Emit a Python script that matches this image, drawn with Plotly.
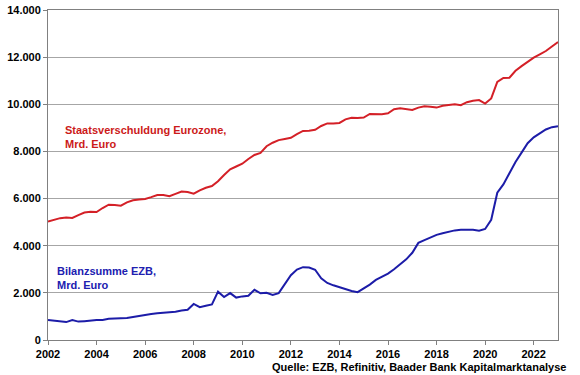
import plotly.graph_objects as go

# Quarterly time axis (decimal years)
years = [2002 + i * 0.25 for i in range(85)]

staatsverschuldung = [
    5030, 5100, 5170, 5200, 5180, 5300, 5410, 5440, 5430, 5600, 5740, 5730,
    5700, 5840, 5930, 5960, 5985, 6060, 6150, 6150, 6100, 6200, 6300, 6280,
    6210, 6350, 6460, 6530, 6735, 7000, 7240, 7360, 7480, 7680, 7850, 7940,
    8220, 8370, 8480, 8530, 8580, 8730, 8870, 8880, 8920, 9080, 9190, 9190,
    9210, 9360, 9430, 9420, 9440, 9590, 9590, 9580, 9620, 9790, 9830, 9780,
    9760, 9860, 9920, 9900, 9860, 9940, 9970, 10000, 9960, 10090, 10150, 10180,
    10030, 10250, 10950, 11120, 11130, 11420, 11620, 11820, 11980, 12120, 12260, 12450,
    12640,
]

bilanzsumme_ezb = [
    850, 810, 770, 760, 850, 780, 800, 830, 850, 850, 900, 910,
    915, 930, 980, 1030, 1065, 1100, 1130, 1150, 1170, 1200, 1250, 1280,
    1530, 1390, 1450, 1510, 2050, 1820, 1990, 1800, 1850, 1880, 2130, 1980,
    2000, 1915, 1990, 2350, 2750, 2990, 3090, 3075, 2980, 2620, 2420, 2320,
    2240, 2130, 2080, 2030, 2180, 2350, 2550, 2670, 2820, 3000, 3200, 3420,
    3700, 4120, 4240, 4350, 4460, 4530, 4600, 4650, 4675, 4680, 4680, 4640,
    4710, 5100, 6250, 6600, 7100, 7550, 7950, 8350, 8600, 8780, 8930, 9030,
    9070,
]

x_ticks = list(range(2002, 2023, 2))
y_ticks = list(range(0, 14001, 2000))

label_staat = "Staatsverschuldung Eurozone,<br>Mrd. Euro"
label_ezb = "Bilanzsumme EZB,<br>Mrd. Euro"
source = "Quelle: EZB, Refinitiv, Baader Bank Kapitalmarktanalyse"

RED = "#d42027"
BLUE = "#1c1ca8"
FONT = "Liberation Sans, Arial, sans-serif"

fig = go.Figure()
fig.add_trace(go.Scatter(x=years, y=staatsverschuldung, mode="lines",
                         line=dict(color=RED, width=2), showlegend=False))
fig.add_trace(go.Scatter(x=years, y=bilanzsumme_ezb, mode="lines",
                         line=dict(color=BLUE, width=2), showlegend=False))

fig.add_annotation(x=0.029, y=8620, xref="paper", yref="y", text=label_staat,
                   showarrow=False, xanchor="left", yanchor="middle", align="left",
                   font=dict(family=FONT, size=11, color="#cc1a1a", weight="bold"))
fig.add_annotation(x=0.0137, y=2625, xref="paper", yref="y", text=label_ezb,
                   showarrow=False, xanchor="left", yanchor="middle", align="left",
                   font=dict(family=FONT, size=11, color="#2020b0", weight="bold"))
fig.add_annotation(x=1.0196, y=-0.0818, xref="paper", yref="paper", text=source,
                   showarrow=False, xanchor="right", yanchor="middle",
                   font=dict(family=FONT, size=11, color="black", weight="bold"))

fig.update_layout(
    width=580, height=375,
    margin=dict(l=48, r=22, t=10, b=35, autoexpand=False),
    paper_bgcolor="white", plot_bgcolor="white",
    separators=",.",
    font=dict(family=FONT, size=11, color="black"),
)
fig.update_xaxes(range=[2002, 2023], tickvals=x_ticks, showgrid=False,
                 showline=True, linecolor="#808080", linewidth=1, mirror=True,
                 ticks="outside", ticklen=4, tickcolor="#808080", automargin=False,
                 ticklabeloverflow="allow",
                 tickfont=dict(family=FONT, size=11, color="black", weight="bold"),
                 zeroline=False)
fig.update_yaxes(range=[0, 14000], tickvals=y_ticks, tickformat=",d",
                 showgrid=True, gridcolor="#a6a6a6", gridwidth=1,
                 showline=True, linecolor="#808080", linewidth=1, mirror=True,
                 ticks="outside", ticklen=4, tickcolor="#808080", automargin=False,
                 ticklabeloverflow="allow",
                 tickfont=dict(family=FONT, size=11, color="black", weight="bold"),
                 zeroline=False)

fig.write_html("out.html", config={"displayModeBar": False},
               post_script="document.body.style.margin='0';document.body.style.overflow='hidden';")
